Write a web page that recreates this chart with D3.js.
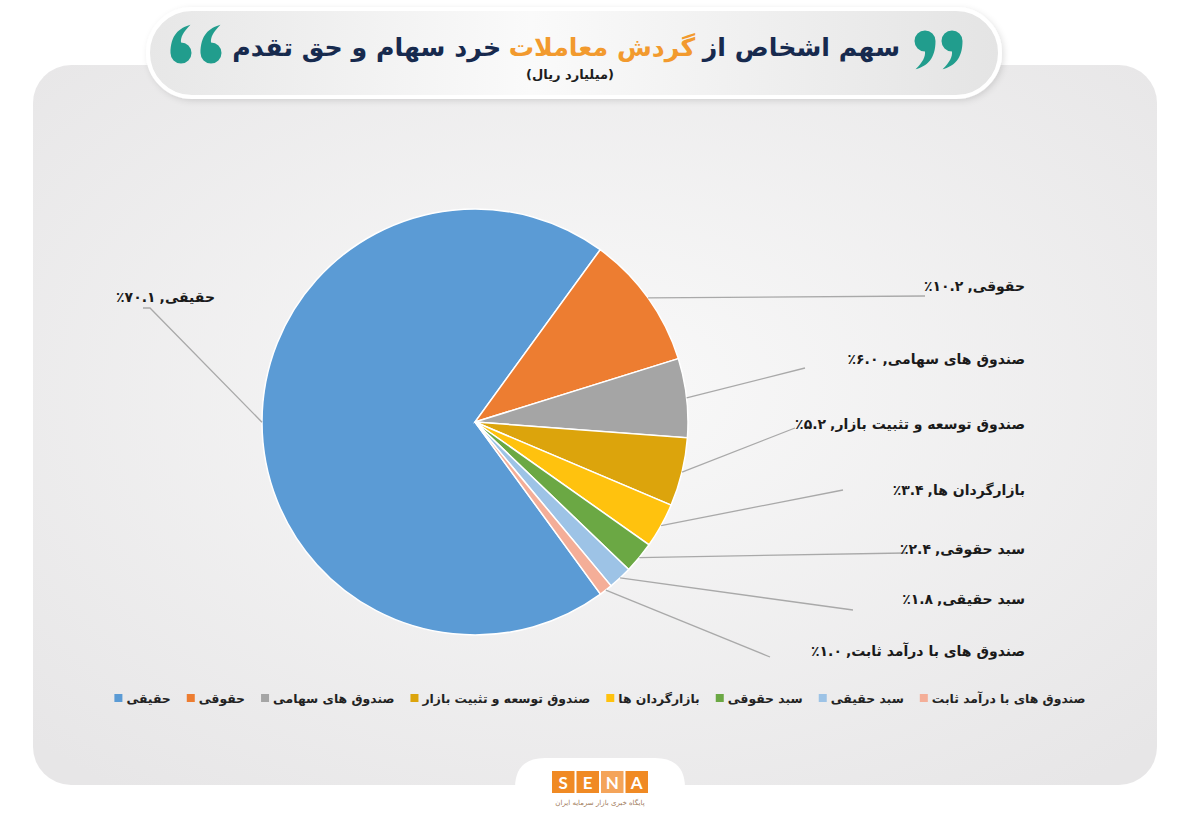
<!DOCTYPE html>
<html><head><meta charset="utf-8">
<script src="https://cdnjs.cloudflare.com/ajax/libs/d3/7.8.5/d3.min.js"></script>
<style>
body{margin:0;background:#fff;}
svg{display:block;}
text{font-family:"DejaVu Sans",sans-serif;font-weight:bold;}
</style>
</head><body>
<svg id="c" width="1200" height="831"></svg>
<script>
// ---------------- data ----------------
const categories = ["حقیقی","حقوقی","صندوق های سهامی","صندوق توسعه و تثبیت بازار","بازارگردان ها","سبد حقوقی","سبد حقیقی","صندوق های با درآمد ثابت"];
const shares = [70.1, 10.2, 6.0, 5.2, 3.4, 2.4, 1.8, 1.0];
const colors = ["#5B9BD5","#ED7D31","#A5A5A5","#DCA40C","#FFC20E","#6BA844","#9DC3E6","#F4AE98"];
const titleParts = ["سهم اشخاص از","گردش معاملات","خرد سهام و حق تقدم"];
const subtitle = "(میلیارد ریال)";
const logoLetters = ["S","E","N","A"];
const logoCaption = "پایگاه خبری بازار سرمایه ایران";

// ---------------- layout ----------------
const W = 1200, H = 831;
const cx = 475, cy = 422, R = 213;
// label anchor (text right x, baseline y) and leader end point
const labelLayout = [
  {tx:215, ty:302, lx:150, ly:308, hx:143},
  {tx:1025, ty:291, lx:925, ly:296},
  {tx:1025, ty:364, lx:805, ly:368},
  {tx:1025, ty:429, lx:795, ly:428},
  {tx:1025, ty:495, lx:843, ly:490},
  {tx:1025, ty:554, lx:905, ly:553},
  {tx:1025, ty:604, lx:853, ly:610},
  {tx:1025, ty:656, lx:770, ly:657}
];

const fa = s => s.replace(/\d/g, d => "۰۱۲۳۴۵۶۷۸۹"[+d]);
const fmt = d3.format(".1f");

const svg = d3.select("#c");
const defs = svg.append("defs");

const cg = defs.append("radialGradient").attr("id","cardG").attr("cx","50%").attr("cy","45%").attr("r","70%");
cg.append("stop").attr("offset","0%").attr("stop-color","#f9f9f9");
cg.append("stop").attr("offset","100%").attr("stop-color","#e7e6e7");
const pg = defs.append("linearGradient").attr("id","pillG").attr("x1","0").attr("x2","1");
pg.append("stop").attr("offset","0%").attr("stop-color","#e7e7e7");
pg.append("stop").attr("offset","45%").attr("stop-color","#fafafa");
pg.append("stop").attr("offset","100%").attr("stop-color","#e4e4e4");
const sh = defs.append("filter").attr("id","shadow").attr("x","-10%").attr("y","-30%").attr("width","120%").attr("height","160%");
sh.append("feDropShadow").attr("dx",2).attr("dy",2).attr("stdDeviation",3).attr("flood-color","#000").attr("flood-opacity",0.12);

svg.append("rect").attr("width",W).attr("height",H).attr("fill","#fff");
svg.append("rect").attr("x",33).attr("y",65).attr("width",1124).attr("height",720).attr("rx",38)
  .attr("fill","url(#cardG)");

// title pill
svg.append("rect").attr("x",148).attr("y",9).attr("width",852).attr("height",88).attr("rx",44)
  .attr("fill","url(#pillG)").attr("stroke","#fff").attr("stroke-width",4).attr("filter","url(#shadow)");

// quote marks
function comma(g, qx, qy, r, rot){
  const p = `M${qx-r},${qy} A${r},${r} 0 1 1 ${qx+r},${qy} C${qx+r},${qy+r*1.7} ${qx+r*0.2},${qy+r*2.4} ${qx-r*0.9},${qy+r*2.7} C${qx-r*0.2},${qy+r*2.0} ${qx+r*0.05},${qy+r*1.5} ${qx},${qy+r} A${r},${r} 0 0 1 ${qx-r},${qy} Z`;
  g.append("path").attr("d",p).attr("fill","#219d8d")
    .attr("transform", rot ? `rotate(180,${qx},${qy})` : null);
}
const qg = svg.append("g");
comma(qg,181,53,10.5,true); comma(qg,211,53,10.5,true);
comma(qg,925,41,10.5,false); comma(qg,952,41,10.5,false);

// title text: three parts right-to-left
const tg = svg.append("g");
const tColors = ["#172a4e","#f29a2e","#172a4e"];
let fs = 30;
const tEls = titleParts.map((t,i)=>tg.append("text").text(t).attr("font-size",fs).attr("fill",tColors[i]).attr("text-anchor","end"));
const sp0 = fs*0.3;
let tot = d3.sum(tEls.map(e=>e.node().getComputedTextLength())) + 2*sp0;
const k = 668 / tot; fs = fs*k;
tEls.forEach(e=>e.attr("font-size",fs));
const sp = sp0*k;
let xr = 900;
tEls.forEach(e=>{ const w=e.node().getComputedTextLength(); e.attr("x",xr).attr("y",56); xr -= w + sp; });
svg.append("text").text(subtitle).attr("x",570).attr("y",79).attr("text-anchor","middle")
  .attr("font-size",13).attr("fill","#1d1d1d");

// pie
const pie = d3.pie().sort(null).value(d=>d)
  .startAngle(143.9*Math.PI/180).endAngle(143.9*Math.PI/180 + 2*Math.PI);
const arcs = pie(shares);
const arc = d3.arc().innerRadius(0).outerRadius(R);
const pg2 = svg.append("g").attr("transform",`translate(${cx},${cy})`);
pg2.selectAll("path").data(arcs).join("path")
  .attr("d",arc).attr("fill",(d,i)=>colors[i]).attr("stroke","#fff").attr("stroke-width",1.5);

// leaders & labels
const lg = svg.append("g");
arcs.forEach((a,i)=>{
  const m = (a.startAngle + a.endAngle)/2;
  const sx = cx + R*Math.sin(m), sy = cy - R*Math.cos(m);
  const L = labelLayout[i];
  const pts = [[sx,sy],[L.lx,L.ly]];
  if (L.hx !== undefined) pts.push([L.hx,L.ly]);
  lg.append("path").attr("d",d3.line()(pts)).attr("fill","none").attr("stroke","#a9a9a9").attr("stroke-width",1.3);
  const g = lg.append("g").attr("font-size",14).attr("fill","#1a1a1a").attr("text-anchor","end");
  const tN = g.append("text").text(categories[i]).attr("x",L.tx).attr("y",L.ty);
  const wN = tN.node().getComputedTextLength();
  const tC = g.append("text").text(",").attr("x",L.tx - wN).attr("y",L.ty);
  const wC = tC.node().getComputedTextLength();
  g.append("text").text("٪" + fa(fmt(shares[i]))).attr("x",L.tx - wN - wC - 4).attr("y",L.ty);
});

// legend
const leg = svg.append("g");
const items = categories.map((c,i)=>{
  const g = leg.append("g");
  g.append("rect").attr("width",8).attr("height",8).attr("y",-4).attr("fill",colors[i]);
  const t = g.append("text").text(c).attr("y",5).attr("font-size",12.4).attr("fill","#222")
    .attr("text-anchor","end");
  const w = t.node().getComputedTextLength();
  t.attr("x",12+w);
  return {g, w: 12+w};
});
const gap = 16;
const totalW = d3.sum(items,d=>d.w) + gap*(items.length-1);
let lx = 600 - totalW/2;
items.forEach(it=>{ it.g.attr("transform",`translate(${lx},698)`); lx += it.w + gap; });

// logo tab
svg.append("path").attr("d","M515,831 L515,788 Q515,758 545,758 L655,758 Q685,758 685,788 L685,831 Z").attr("fill","#fff");
const lgo = svg.append("g");
const boxColors = ["#f08a24","#f08a24","#f4a45a","#f08a24"];
logoLetters.forEach((ch,i)=>{
  const bx = 552 + i*24.5;
  lgo.append("rect").attr("x",bx).attr("y",771).attr("width",22.5).attr("height",22).attr("fill",boxColors[i]);
  lgo.append("text").text(ch).attr("x",bx+11.25).attr("y",789).attr("text-anchor","middle")
    .attr("font-size",17).attr("fill","#fff").style("font-family","Lato, sans-serif");
});
lgo.append("text").text(logoCaption).attr("x",600).attr("y",805).attr("text-anchor","middle")
  .attr("font-size",7).attr("fill","#a07a5a").style("font-weight","normal");
</script>
</body></html>
